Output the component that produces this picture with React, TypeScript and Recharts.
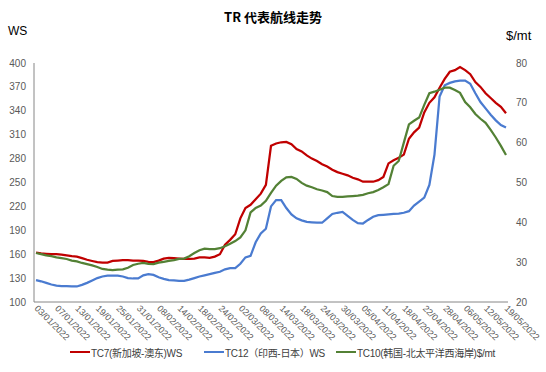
import { LineChart, Line, XAxis, YAxis, Legend } from "recharts";

const dates = [
  "03/01/2022", "04/01/2022", "05/01/2022", "06/01/2022", "07/01/2022", "10/01/2022", "11/01/2022", "12/01/2022",
  "13/01/2022", "14/01/2022", "17/01/2022", "18/01/2022", "19/01/2022", "20/01/2022", "21/01/2022", "24/01/2022",
  "25/01/2022", "26/01/2022", "27/01/2022", "28/01/2022", "31/01/2022", "01/02/2022", "02/02/2022", "07/02/2022",
  "08/02/2022", "09/02/2022", "10/02/2022", "11/02/2022", "14/02/2022", "15/02/2022", "16/02/2022", "17/02/2022",
  "18/02/2022", "21/02/2022", "22/02/2022", "23/02/2022", "24/02/2022", "25/02/2022", "28/02/2022", "01/03/2022",
  "02/03/2022", "03/03/2022", "04/03/2022", "07/03/2022", "08/03/2022", "09/03/2022", "10/03/2022", "11/03/2022",
  "14/03/2022", "15/03/2022", "16/03/2022", "17/03/2022", "18/03/2022", "21/03/2022", "22/03/2022", "23/03/2022",
  "24/03/2022", "25/03/2022", "28/03/2022", "29/03/2022", "30/03/2022", "31/03/2022", "01/04/2022", "04/04/2022",
  "05/04/2022", "06/04/2022", "07/04/2022", "08/04/2022", "11/04/2022", "12/04/2022", "13/04/2022", "14/04/2022",
  "18/04/2022", "19/04/2022", "20/04/2022", "21/04/2022", "22/04/2022", "25/04/2022", "26/04/2022", "27/04/2022",
  "28/04/2022", "29/04/2022", "04/05/2022", "05/05/2022", "06/05/2022", "09/05/2022", "10/05/2022", "11/05/2022",
  "12/05/2022", "13/05/2022", "16/05/2022", "17/05/2022", "19/05/2022",
];

// TC7 新加坡-澳东, WS
const tc7 = [
  162, 161, 160.5, 160, 160, 159.5, 158.5, 157.5, 157, 155, 153, 151.5, 150, 149.5, 149.5, 151.5, 152, 152.5, 152.5, 152,
  152, 151.5, 150.5, 150, 152, 154.5, 155.5, 155, 154.5, 154,
  154, 154.5, 156, 156, 155.5, 157, 160, 172, 178, 185,
  205, 218, 222, 229, 236, 247, 296, 299, 300.5, 301,
  298, 292, 289, 284, 280, 277, 273, 270, 266, 263,
  261, 259, 256, 254, 251, 251, 251, 253, 257, 274,
  278, 281, 285, 305, 313, 319, 338, 350, 357, 369,
  380, 389, 391, 395, 391, 386, 376, 370, 362, 356,
  350, 345, 337,
];

// TC12 印西-日本, WS
const tc12 = [
  127.5, 126, 124, 122, 120.5, 120, 120, 119.5, 119.5, 121.5, 124, 127, 130, 132, 133, 133, 133, 132, 130, 129.5,
  129.5, 133.5, 135, 134, 131, 129, 127.5, 127, 126.5, 126.5,
  128, 130, 132, 133.5, 135, 136.5, 138, 141, 142.5, 142.5,
  148, 156, 158, 175, 186, 192, 220, 228, 228, 218,
  210, 205, 202.5, 200.5, 200, 199.5, 199.5, 205, 210.5, 212,
  213, 208, 203, 199, 198.5, 203, 207, 209, 209.5, 210,
  210.5, 211, 212, 214, 221, 226, 231, 247, 285, 358,
  372, 375, 377, 378, 378, 374, 362, 351, 343, 335,
  328, 322, 319,
];

// TC10 韩国-北太平洋西海岸, $/mt
const tc10 = [
  32.3, 32.0, 31.7, 31.5, 31.2, 31.0, 30.8, 30.4, 30.2, 29.8, 29.5, 29.2, 28.8, 28.3, 28.1, 28.0, 28.1, 28.2, 28.6, 29.3,
  29.6, 29.8, 29.6, 29.5, 29.9, 30.1, 30.3, 30.5, 30.8, 30.9,
  31.5, 32.3, 33.0, 33.4, 33.3, 33.3, 33.5, 34.0, 34.6, 35.3,
  36.2, 38.0, 42.5, 43.6, 44.2, 45.4, 47.4, 49.2, 50.4, 51.3,
  51.4, 50.9, 49.9, 49.2, 48.8, 48.3, 48.0, 47.6, 46.6, 46.4,
  46.4, 46.5, 46.6, 46.7, 46.9, 47.3, 47.6, 48.1, 48.8, 49.6,
  54.2, 55.4, 60.0, 64.6, 65.5, 66.3, 69.5, 72.4, 72.8, 73.3,
  73.8, 73.8, 73.2, 72.5, 70.2, 68.9, 67.2, 66.0, 65.0, 63.2,
  61.3, 59.2, 56.9,
];

const wsTicks = [100, 130, 160, 190, 220, 250, 280, 310, 340, 370, 400];
const usdTicks = [20, 30, 40, 50, 60, 70, 80];

const series = [
  { key: "tc7", name: "TC7(新加坡-澳东)WS", color: "#C00000", axis: "ws", legendX: 70 },
  { key: "tc12", name: "TC12（印西-日本）WS", color: "#4A7BD0", axis: "ws", legendX: 204 },
  { key: "tc10", name: "TC10(韩国-北太平洋西海岸)$/mt", color: "#538135", axis: "usd", legendX: 336 },
];

const data = dates.map((date, i) => ({ date, tc7: tc7[i], tc12: tc12[i], tc10: tc10[i] }));

const font = "'Liberation Sans', 'Noto Sans CJK SC', sans-serif";

function DateTick({ x, y, payload }: any) {
  const tx = x - 2;
  const ty = y + 7;
  return (
    <text x={tx} y={ty} transform={`rotate(45 ${tx} ${ty})`} textAnchor="start" fontSize={9} fill="#595959" fontFamily={font}>
      {payload.value}
    </text>
  );
}

function LegendRow() {
  return (
    <div style={{ position: "relative", width: 546, height: 22, fontFamily: font, fontSize: 10, color: "#404040" }}>
      {series.map((s) => (
        <div key={s.key} style={{ position: "absolute", left: s.legendX, top: 0, height: 22, display: "flex", alignItems: "center", whiteSpace: "nowrap" }}>
          <span style={{ display: "inline-block", width: 20, height: 2.5, background: s.color, marginRight: 1 }} />
          <span style={{ letterSpacing: -0.3 }}>{s.name}</span>
        </div>
      ))}
    </div>
  );
}

export default function App() {
  return (
    <div style={{ position: "absolute", left: 0, top: 0, width: 546, height: 372, background: "#fff" }}>
      <div style={{ position: "absolute", left: 0, width: 546, top: 7, textAlign: "center", fontFamily: "'Noto Sans CJK SC', sans-serif", fontWeight: 700, fontSize: 13, color: "#000" }}>
        TR 代表航线走势
      </div>
      <div style={{ position: "absolute", left: 8, top: 24, fontFamily: font, fontSize: 12, color: "#000" }}>WS</div>
      <div style={{ position: "absolute", left: 506, top: 28, fontFamily: font, fontSize: 13, color: "#000" }}>$/mt</div>
      <LineChart width={546} height={372} data={data} margin={{ top: 63, right: 8, bottom: 0, left: 8 }}>
        <XAxis
          dataKey="date"
          interval={3}
          tick={<DateTick />}
          tickLine={false}
          tickSize={0}
          tickMargin={0}
          height={48}
          stroke="#868686"
          padding={{ left: 2, right: 2 }}
        />
        <YAxis
          yAxisId="ws"
          domain={[100, 400]}
          ticks={wsTicks}
          width={26}
          tickLine={false}
          stroke="#868686"
          tick={{ fill: "#595959", fontSize: 10, fontFamily: font }}
        />
        <YAxis
          yAxisId="usd"
          orientation="right"
          domain={[20, 80]}
          ticks={usdTicks}
          width={30}
          tickLine={false}
          axisLine={false}
          tick={{ fill: "#595959", fontSize: 10, fontFamily: font }}
        />
        {series.map((s) => (
          <Line
            key={s.key}
            yAxisId={s.axis}
            dataKey={s.key}
            name={s.name}
            stroke={s.color}
            strokeWidth={2.25}
            dot={false}
            isAnimationActive={false}
          />
        ))}
        <Legend verticalAlign="bottom" content={<LegendRow />} wrapperStyle={{ bottom: 9, left: 0, width: 546 }} />
      </LineChart>
    </div>
  );
}
